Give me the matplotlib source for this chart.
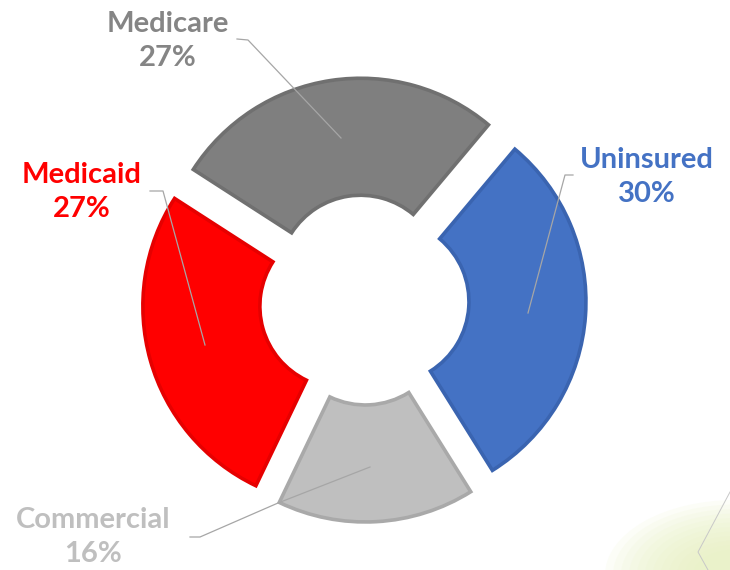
import numpy as np
from matplotlib import pyplot as plt
from matplotlib.patches import Ellipse

labels = ["Uninsured", "Commercial", "Medicaid", "Medicare"]
shares = [30, 16, 27, 27]
fill_colors = ["#4472C4", "#BFBFBF", "#FF0000", "#7F7F7F"]
edge_colors = ["#3A64B0", "#A9A9A9", "#E60000", "#707070"]
text_colors = ["#4472C4", "#BFBFBF", "#FF0000", "#858585"]

W, H = 730, 570
fig = plt.figure(figsize=(7.3, 5.7), dpi=100)
ax = fig.add_axes([0, 0, 1, 1])

# soft slide decoration in bottom right corner
for i in range(12):
    ax.add_patch(Ellipse((735, -5), 260 - i * 16, 150 - i * 9,
                         color="#E8F2C0", alpha=0.12, lw=0, zorder=0))
ax.plot([730, 698, 708], [H - 492, H - 552, H - 570], color="#C8C8C8", lw=0.7, zorder=1)

cx, cy = 364, H - 300
R = 199
# explode is in data units here (pixels)
wedges, _ = ax.pie(shares, radius=R, center=(cx, cy), startangle=50,
                   counterclock=False, explode=[23] * 4, colors=fill_colors,
                   wedgeprops=dict(width=117, linewidth=2.6), frame=True)
for w, ec in zip(wedges, edge_colors):
    w.set_edgecolor(ec)
ax.set_xlim(0, W)
ax.set_ylim(0, H)
ax.axis("off")

# labels (pixel positions from the top)
label_pos = {"Uninsured": (647, 177), "Commercial": (93, 537),
             "Medicaid": (82, 192), "Medicare": (168, 41)}
for lab, val, tc in zip(labels, shares, text_colors):
    x, y = label_pos[lab]
    ax.text(x, H - y, f"{lab}\n{val}%", ha="center", va="center", color=tc,
            fontsize=21, fontweight="bold", family="Lato", linespacing=1.4)

# leader lines
leaders = {
    "Uninsured": [(573, 175), (565, 175), (528, 313)],
    "Commercial": [(190, 537), (200, 537), (278, 503), (370, 467)],
    "Medicaid": [(150, 191), (163, 191), (205, 345)],
    "Medicare": [(237, 39), (248, 40), (341, 138)],
}
for pts in leaders.values():
    xs = [p[0] for p in pts]
    ys = [H - p[1] for p in pts]
    ax.plot(xs, ys, color="#A6A6A6", lw=0.9, zorder=5)

plt.savefig("out.png", dpi=100)
